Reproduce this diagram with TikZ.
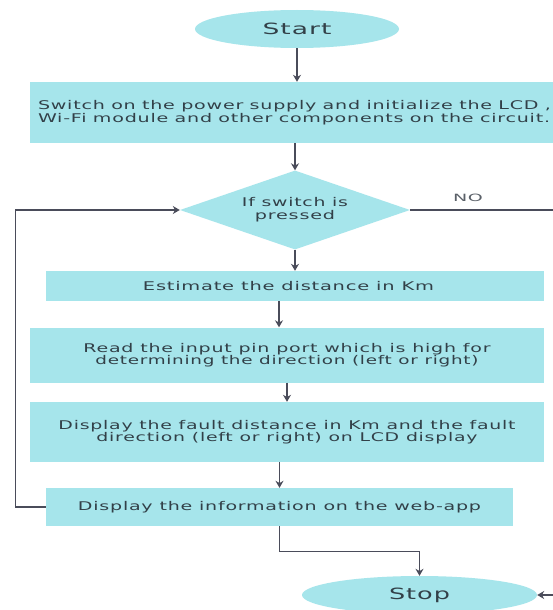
\documentclass[tikz,border=0pt]{standalone}
\usepackage{fontspec}
\setmainfont{DejaVu Sans}[LetterSpace=4]
\usetikzlibrary{shapes.geometric,arrows.meta,calc}
\definecolor{boxfill}{RGB}{166,229,235}
\definecolor{linec}{RGB}{74,76,90}
\definecolor{textc}{RGB}{50,64,72}
\definecolor{noc}{RGB}{90,96,104}
\newcommand{\fitw}[2]{\resizebox{#1pt}{\height}{#2}}
\begin{document}
\begin{tikzpicture}[x=1pt,y=-1pt,
 box/.style={rectangle, fill=boxfill, draw=none, inner sep=0pt, text=textc, font=\fontsize{12}{12.5}\selectfont, align=center},
 term/.style={ellipse, fill=boxfill, inner sep=0pt, text=textc, font=\fontsize{15.5}{18}\selectfont},
 dec/.style={diamond, aspect=2.9, fill=boxfill, inner sep=0pt, text=textc, font=\fontsize{12}{13}\selectfont, align=center},
 arr/.style={draw=linec, line width=1.2pt, -{Stealth[length=7pt,width=8pt]}},
 ln/.style={draw=linec, line width=1.2pt}]
\useasboundingbox (0,0) rectangle (553,610);
\clip (0,0) rectangle (553,610);
\fill[white] (0,0) rectangle (553,610);

\node[term, minimum width=204, minimum height=38] (start) at (297,29) {\fitw{69}{Start}};
\node[box, minimum width=545, minimum height=61, text width=529, align=left] (b1) at (302.5,112.5)
  {\fitw{513}{Switch on the power supply and initialize the LCD ,}\\\fitw{512}{Wi-Fi module and other components on the circuit.}};
\node[dec, minimum width=230, minimum height=79] (dec) at (295,210)
  {\fitw{106}{If switch is}\\\fitw{80}{pressed}};
\node[font=\fontsize{10}{12}\selectfont, text=noc, inner sep=0pt] (no) at (468,198) {\fitw{30}{NO}};
\node[box, minimum width=498, minimum height=30] (b2) at (295,286)
  {\fitw{291}{Estimate the distance in Km}\hspace{13pt}};
\node[box, minimum width=514, minimum height=55] (b3) at (287,355)
  {\fitw{407}{Read the input pin port which is high for}\\\fitw{383}{determining the direction (left or right)}};
\node[box, minimum width=514, minimum height=60] (b4) at (287,432)
  {\fitw{457}{Display the fault distance in Km and the fault}\\\fitw{381}{direction (left or right) on LCD display}};
\node[box, minimum width=467, minimum height=38] (b5) at (279.5,507)
  {\fitw{403}{Display the information on the web-app}};
\node[term, minimum width=235, minimum height=38] (stop) at (419.5,595) {\fitw{61}{Stop}};

\coordinate (noend) at (600,210);
\coordinate (stopin) at (600,595);

\draw[arr] (start.south) -- (start.south |- b1.north);
\draw[arr] (dec.north |- b1.south) -- (dec.north);
\draw[arr] (dec.south) -- (dec.south |- b2.north);
\draw[arr] ([xshift=-16pt]b2.south) -- ([xshift=-16pt]b2.south |- b3.north);
\draw[arr] (b3.south) -- (b3.south |- b4.north);
\draw[arr] (b4.south -| b5.north) -- (b5.north);
\draw[arr] (b5.south) -- ++(0,25) -| (stop.north);
\draw[arr] (b5.west) -- ++(-30,0) |- (dec.west);
\draw[ln] (dec.east) -- (noend);
\draw[arr] (stopin) -- (stop.east);
\end{tikzpicture}
\end{document}
